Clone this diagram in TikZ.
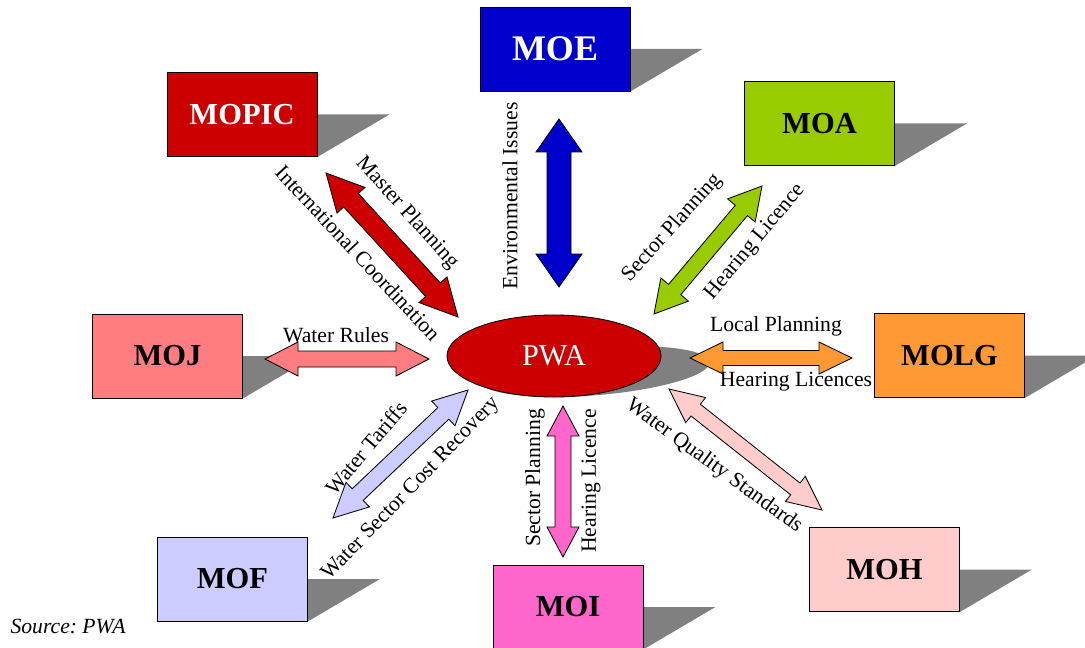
\documentclass[tikz,border=0pt]{standalone}
\usepackage{fontspec}
\setmainfont{Liberation Serif}
\usepackage{tikz}
\usetikzlibrary{calc, shapes.geometric, backgrounds, positioning}

\definecolor{moeblue}{HTML}{0000CC}
\definecolor{pwared}{HTML}{CC0000}
\definecolor{moagreen}{HTML}{99CC00}
\definecolor{mojpink}{HTML}{FF7C80}
\definecolor{molgorange}{HTML}{FF9933}
\definecolor{moflilac}{HTML}{CCCCFF}
\definecolor{moimagenta}{HTML}{FF66CC}
\definecolor{mohrose}{HTML}{FFCCCC}
\definecolor{shadowgray}{HTML}{808080}

% block arrow with two heads: from, to, colour, shaft, head, head length (px)
\newcommand{\dblarrow}[6]{%
  \draw[arrowline, fill=#3] (#1)
    -- ($(#1)!#6*0.025cm!(#2)!#5*0.025cm!90:(#2)$)
    -- ($(#1)!#6*0.025cm!(#2)!#4*0.025cm!90:(#2)$)
    -- ($(#2)!#6*0.025cm!(#1)!#4*0.025cm!-90:(#1)$)
    -- ($(#2)!#6*0.025cm!(#1)!#5*0.025cm!-90:(#1)$)
    -- (#2)
    -- ($(#2)!#6*0.025cm!(#1)!#5*0.025cm!90:(#1)$)
    -- ($(#2)!#6*0.025cm!(#1)!#4*0.025cm!90:(#1)$)
    -- ($(#1)!#6*0.025cm!(#2)!#4*0.025cm!-90:(#2)$)
    -- ($(#1)!#6*0.025cm!(#2)!#5*0.025cm!-90:(#2)$)
    -- cycle;}

\begin{document}
\begin{tikzpicture}[x=0.025cm, y=0.025cm, line join=miter, arrowline/.style={draw=black, line width=0.6pt}, castshadow/.style={fill=shadowgray}]
    % Define styles for ministries, the authority and the labels
    \tikzstyle{ministry} = [draw, rectangle, line width=0.6pt, minimum width=3.75cm, minimum height=2.1cm, font=\fontsize{21.7}{26}\selectfont\bfseries]
    \tikzstyle{authority} = [draw, ellipse, line width=0.6pt, fill=pwared, text=white, minimum width=5.35cm, minimum height=2.05cm, inner sep=0pt, font=\fontsize{21.5}{26}\selectfont]
    \tikzstyle{tag} = [inner sep=0pt, font=\fontsize{15.4}{18}\selectfont]

    \useasboundingbox (0,0) rectangle (1085,647);

    % Nodes placement
    \node [authority] (pwa) at (554,291) {PWA};
    \node [ministry, fill=moeblue, text=white, font=\fontsize{25.6}{30}\selectfont\bfseries] (moe) at (555,598) {MOE};
    \node [ministry, fill=pwared, text=white] (mopic) at (242,532.5) {MOPIC};
    \node [ministry, fill=moagreen] (moa) at (819.5,523.5) {MOA};
    \node [ministry, fill=mojpink] (moj) at (167.5,291) {MOJ};
    \node [ministry, fill=molgorange] (molg) at (949.5,291.5) {MOLG};
    \node [ministry, fill=moflilac] (mof) at (232.5,68) {MOF};
    \node [ministry, fill=moimagenta] (moi) at (568,40) {MOI};
    \node [ministry, fill=mohrose] (moh) at (884.5,77.5) {MOH};

    % Shadows behind the boxes and the ellipse
    \begin{pgfonlayer}{background}
        \foreach \m in {moe, mopic, moa, moj, molg, mof, moi, moh}
            \fill[castshadow] (\m.east) -- ++(72,0) -- (\m.south east) -- cycle;
        \begin{scope}[cm={1,0,1,0.62,(-250,95)}]
            \fill[castshadow] (554,291) ellipse [x radius=107, y radius=41];
        \end{scope}
    \end{pgfonlayer}

    % Arrow ends
    \coordinate (moeA) at (559,528);
    \coordinate (moeB) at (559,360);
    \coordinate (mopicA) at (326,474);
    \coordinate (mopicB) at (458,330);
    \coordinate (moaA) at (762,461);
    \coordinate (moaB) at (654,333);
    \coordinate (mojA) at (265,288);
    \coordinate (mojB) at (429,288);
    \coordinate (molgA) at (690,289);
    \coordinate (molgB) at (852,289);
    \coordinate (mofA) at (468,257);
    \coordinate (mofB) at (333,129);
    \coordinate (moiA) at (563,241);
    \coordinate (moiB) at (563,90);
    \coordinate (mohA) at (669,258);
    \coordinate (mohB) at (822,137);

    % Draw edges
    \dblarrow{moeA}{moeB}{moeblue}{12}{23}{33}
    \dblarrow{mopicA}{mopicB}{pwared}{10}{19}{37}
    \dblarrow{moaA}{moaB}{moagreen}{8}{18}{32}
    \dblarrow{mojA}{mojB}{mojpink}{8}{17}{33}
    \dblarrow{molgA}{molgB}{molgorange}{7.5}{16}{33}
    \dblarrow{mofA}{mofB}{moflilac}{8}{17}{34}
    \dblarrow{moiA}{moiB}{moimagenta}{8}{16}{30}
    \dblarrow{mohA}{mohB}{mohrose}{7.5}{16}{34}

    % Labels on the arrows
    \node [tag, rotate=-48] (masterplan) at (407,434) {Master Planning};
    \node [tag, rotate=-47] (intcoord) at (358,394) {International Coordination};
    \node [tag, rotate=90] (envissues) at (510,451) {Environmental Issues};
    \node [tag, rotate=48] (moasector) at (672,419) {Sector Planning};
    \node [tag, rotate=50] (moahearing) at (755,405) {Hearing Licence};
    \node [tag] (waterrules) at (336,312) {Water Rules};
    \node [tag] (localplan) at (776,321) {Local Planning};
    \node [tag] (molghearing) at (796,265) {Hearing Licences};
    \node [tag, rotate=50] (tariffs) at (366,199) {Water Tariffs};
    \node [tag, rotate=46] (costrec) at (411,158) {Water Sector Cost Recovery};
    \node [tag, rotate=90] (moisector) at (535,169) {Sector Planning};
    \node [tag, rotate=90] (moihearing) at (591,166) {Hearing Licence};
    \node [tag, rotate=-36] (quality) at (714,181) {Water Quality Standards};

    % Source
    \node [tag, font=\fontsize{15.4}{18}\selectfont\itshape] (source) at (68,21) {Source:\ PWA};
\end{tikzpicture}
\end{document}
